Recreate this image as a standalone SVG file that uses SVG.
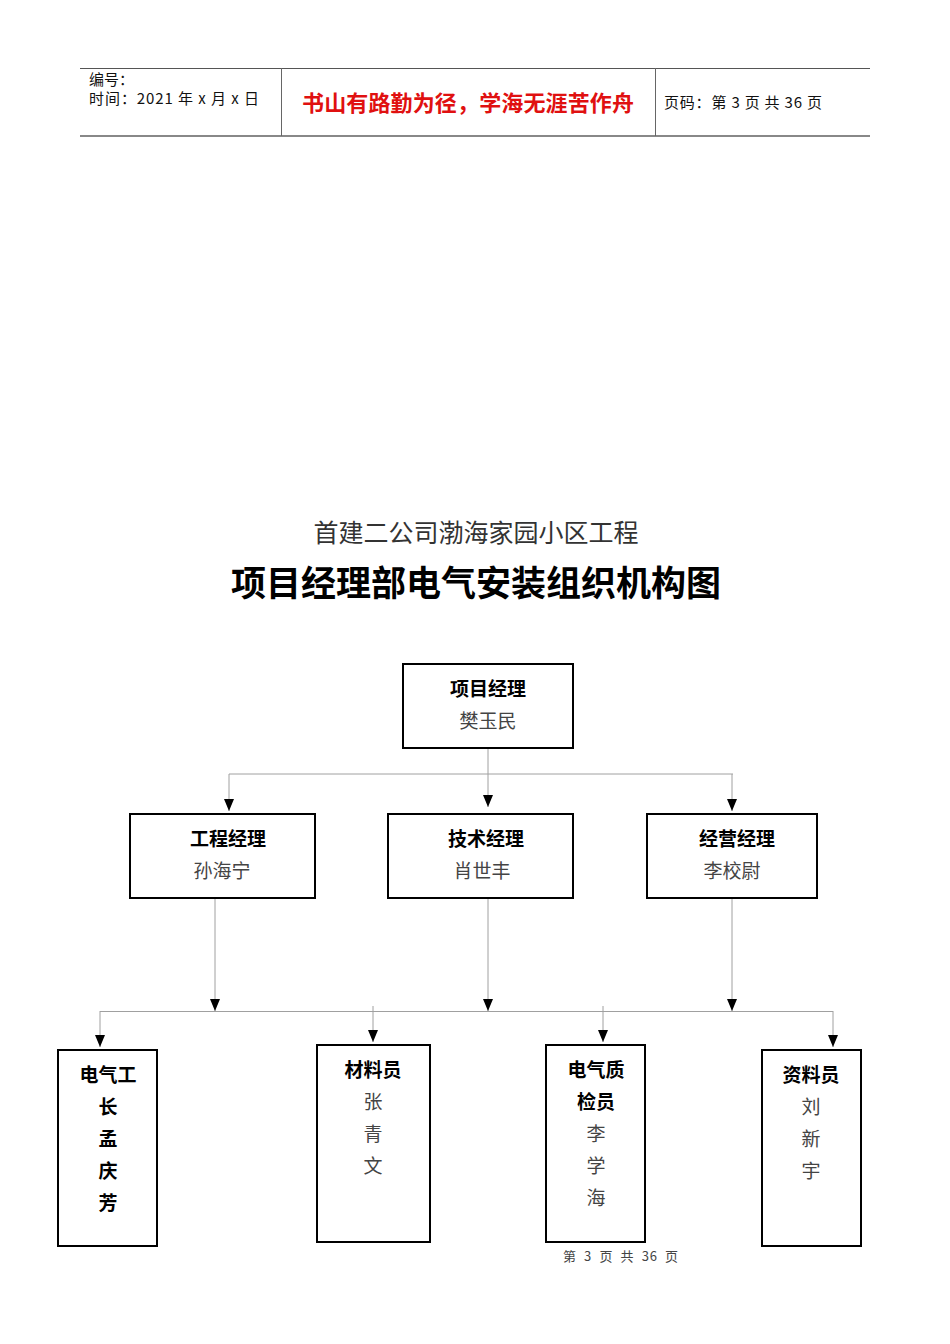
<svg xmlns="http://www.w3.org/2000/svg" width="950" height="1344" viewBox="0 0 950 1344">
<style>
text{font-family:"Noto Sans CJK SC","Liberation Sans",sans-serif}
.box{fill:#fff;stroke:#000;stroke-width:2}
.t{font-size:19px;font-weight:bold;fill:#000;text-anchor:middle}
.n{font-size:19px;fill:#444;text-anchor:middle}
.c{stroke:#a0a0a0;stroke-width:1;fill:none}
.h{font-size:15px;fill:#111}
</style>
<defs>
<marker id="arr" markerUnits="userSpaceOnUse" markerWidth="12" markerHeight="10" refX="12" refY="5" orient="auto">
<path d="M0,0 L12,5 L0,10 z" fill="#000"/>
</marker>
</defs>
<rect width="950" height="1344" fill="#fff"/>
<g id="header">
<line x1="80" y1="68.5" x2="870" y2="68.5" stroke="#555" stroke-width="1"/>
<line x1="80" y1="136" x2="870" y2="136" stroke="#888" stroke-width="2"/>
<line x1="281.5" y1="68" x2="281.5" y2="136" stroke="#666" stroke-width="1"/>
<line x1="655.5" y1="68" x2="655.5" y2="136" stroke="#666" stroke-width="1"/>
<text class="h" x="89" y="85">编号：</text>
<text class="h" x="89" y="104" textLength="170" lengthAdjust="spacing">时间：2021 年 x 月 x 日</text>
<text x="302" y="111" font-size="22" font-weight="bold" fill="#e01010" textLength="332" lengthAdjust="spacing">书山有路勤为径，学海无涯苦作舟</text>
<text class="h" x="664" y="108" textLength="158" lengthAdjust="spacing">页码：第 3 页  共 36 页</text>
</g>
<g id="title">
<text x="476" y="542" font-size="25" fill="#333" text-anchor="middle">首建二公司渤海家园小区工程</text>
<text x="476" y="596" font-size="35" font-weight="bold" fill="#000" text-anchor="middle">项目经理部电气安装组织机构图</text>
</g>
<g id="connectors">
<line class="c" x1="488" y1="748" x2="488" y2="807" marker-end="url(#arr)"/>
<line class="c" x1="229" y1="774" x2="733" y2="774"/>
<line class="c" x1="229" y1="774" x2="229" y2="811" marker-end="url(#arr)"/>
<line class="c" x1="732" y1="774" x2="732" y2="811" marker-end="url(#arr)"/>
<line class="c" x1="215" y1="898" x2="215" y2="1011" marker-end="url(#arr)"/>
<line class="c" x1="488" y1="898" x2="488" y2="1011" marker-end="url(#arr)"/>
<line class="c" x1="732" y1="898" x2="732" y2="1011" marker-end="url(#arr)"/>
<line class="c" x1="100" y1="1011.5" x2="833" y2="1011.5"/>
<line class="c" x1="100" y1="1011" x2="100" y2="1047" marker-end="url(#arr)"/>
<line class="c" x1="373" y1="1006" x2="373" y2="1042" marker-end="url(#arr)"/>
<line class="c" x1="603" y1="1006" x2="603" y2="1042" marker-end="url(#arr)"/>
<line class="c" x1="833" y1="1011" x2="833" y2="1047" marker-end="url(#arr)"/>
</g>
<g id="pm">
<rect class="box" x="403" y="664" width="170" height="84"/>
<text class="t" x="488" y="696">项目经理</text>
<text class="n" x="488" y="728">樊玉民</text>
</g>
<g id="eng">
<rect class="box" x="130" y="814" width="185" height="84"/>
<text class="t" x="228" y="846">工程经理</text>
<text class="n" x="222" y="878">孙海宁</text>
</g>
<g id="tech">
<rect class="box" x="388" y="814" width="185" height="84"/>
<text class="t" x="486" y="846">技术经理</text>
<text class="n" x="482" y="878">肖世丰</text>
</g>
<g id="biz">
<rect class="box" x="647" y="814" width="170" height="84"/>
<text class="t" x="737" y="846">经营经理</text>
<text class="n" x="732" y="878">李校尉</text>
</g>
<g id="foreman">
<rect class="box" x="58" y="1050" width="99" height="196"/>
<text class="t" x="108" y="1082">电气工</text>
<text class="t" x="108" y="1114">长</text>
<text class="t" x="108" y="1146">孟</text>
<text class="t" x="108" y="1178">庆</text>
<text class="t" x="108" y="1210">芳</text>
</g>
<g id="material">
<rect class="box" x="317" y="1045" width="113" height="197"/>
<text class="t" x="373" y="1077">材料员</text>
<text class="n" x="373" y="1109">张</text>
<text class="n" x="373" y="1141">青</text>
<text class="n" x="373" y="1173">文</text>
</g>
<g id="qc">
<rect class="box" x="546" y="1045" width="99" height="197"/>
<text class="t" x="596" y="1077">电气质</text>
<text class="t" x="596" y="1109">检员</text>
<text class="n" x="596" y="1141">李</text>
<text class="n" x="596" y="1173">学</text>
<text class="n" x="596" y="1205">海</text>
</g>
<g id="docs">
<rect class="box" x="762" y="1050" width="99" height="196"/>
<text class="t" x="811" y="1082">资料员</text>
<text class="n" x="811" y="1114">刘</text>
<text class="n" x="811" y="1146">新</text>
<text class="n" x="811" y="1178">宇</text>
</g>
<g id="footer">
<text x="563" y="1261" font-size="13" fill="#444" textLength="115" lengthAdjust="spacing" xml:space="preserve">第  3  页  共  36  页</text>
</g>
</svg>
